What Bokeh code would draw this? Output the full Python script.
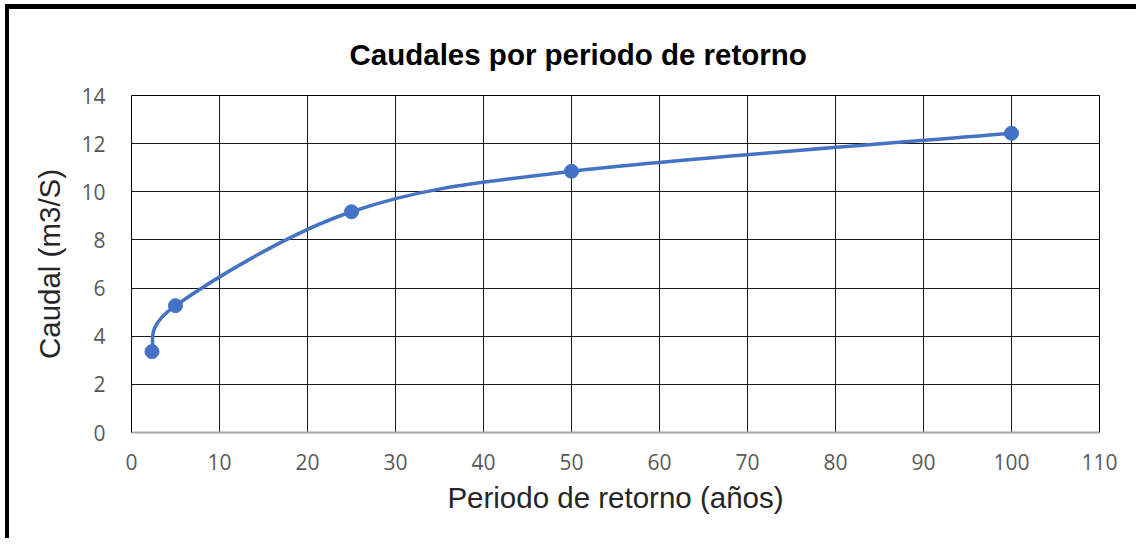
from bokeh.plotting import figure
from bokeh.embed import file_html
from bokeh.resources import INLINE
from bokeh.models import FixedTicker, Range1d

# Data
periodo = [2.33, 5, 25, 50, 100]
caudal = [3.36, 5.27, 9.17, 10.85, 12.43]
x_ticks = [0, 10, 20, 30, 40, 50, 60, 70, 80, 90, 100, 110]
y_ticks = [0, 2, 4, 6, 8, 10, 12, 14]
title_text = "Caudales por periodo de retorno"
x_label = "Periodo de retorno (años)"
y_label = "Caudal (m3/S)"

LINE = "#4472C4"

p = figure(width=1131, height=534, output_backend="svg", toolbar_location=None,
           x_range=Range1d(0, 110), y_range=Range1d(0, 14),
           min_border_left=122, min_border_right=41, min_border_top=86, min_border_bottom=111,
           title=title_text)
p.styles = {"margin-left": "5px", "margin-top": "4px",
            "border-left": "4px solid black", "border-top": "5px solid black"}
p.background_fill_color = "white"
p.border_fill_color = "white"
p.outline_line_color = "black"
p.outline_line_width = 1

p.title.align = "left"
p.title.offset = 218
p.title.standoff = 50
p.title.text_font = "Liberation Sans"
p.title.text_font_style = "bold"
p.title.text_font_size = "29.5px"
p.title.text_color = "black"

# grids
p.xgrid.ticker = FixedTicker(ticks=x_ticks)
p.ygrid.ticker = FixedTicker(ticks=y_ticks)
for g in (p.xgrid, p.ygrid):
    g.grid_line_color = "black"
    g.grid_line_width = 1
    g.grid_line_alpha = 0.9

# axes
p.xaxis.ticker = FixedTicker(ticks=x_ticks)
p.yaxis.ticker = FixedTicker(ticks=y_ticks)
for ax in (p.xaxis, p.yaxis):
    ax.major_tick_line_color = None
    ax.minor_tick_line_color = None
    ax.major_label_text_font = "Open Sans"
    ax.major_label_text_font_size = "21px"
    ax.major_label_text_color = "#595959"
    ax.axis_label_text_font = "Liberation Sans"
    ax.axis_label_text_font_size = "29.5px"
    ax.axis_label_text_font_style = "normal"
    ax.axis_label_text_color = "#262626"
p.xaxis.axis_line_color = "#a6a6a6"
p.xaxis.axis_line_width = 2
p.yaxis.axis_line_color = None
p.xaxis.axis_label = x_label
p.yaxis.axis_label = y_label
p.xaxis.major_label_standoff = 15
p.yaxis.major_label_standoff = 20
p.xaxis.axis_label_standoff = 8
p.yaxis.axis_label_standoff = 12

# smoothed line (Catmull-Rom bezier segments, like a spreadsheet "smoothed line")
n = len(periodo)
x0, y0, x1, y1, cx0, cy0, cx1, cy1 = [], [], [], [], [], [], [], []
for i in range(n - 1):
    pa = (periodo[max(i - 1, 0)], caudal[max(i - 1, 0)])
    pb = (periodo[i], caudal[i])
    pc = (periodo[i + 1], caudal[i + 1])
    pd = (periodo[min(i + 2, n - 1)], caudal[min(i + 2, n - 1)])
    x0.append(pb[0]); y0.append(pb[1])
    x1.append(pc[0]); y1.append(pc[1])
    cx0.append(pb[0] + (pc[0] - pa[0]) / 6.0)
    cy0.append(pb[1] + (pc[1] - pa[1]) / 6.0)
    cx1.append(pc[0] - (pd[0] - pb[0]) / 6.0)
    cy1.append(pc[1] - (pd[1] - pb[1]) / 6.0)
p.bezier(x0=x0, y0=y0, x1=x1, y1=y1, cx0=cx0, cy0=cy0, cx1=cx1, cy1=cy1,
         line_color=LINE, line_width=3.5)
p.scatter(periodo, caudal, size=14, fill_color=LINE, line_color=LINE)

open("out.html", "w").write(file_html(p, INLINE))
